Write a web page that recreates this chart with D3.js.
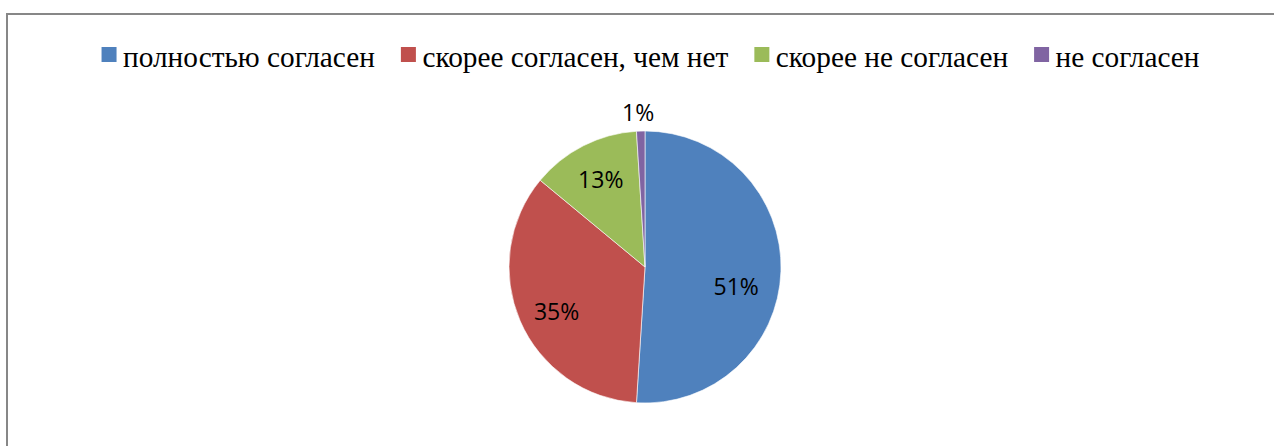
<!DOCTYPE html>
<html><head><meta charset="utf-8">
<script src="https://cdn.jsdelivr.net/npm/d3@7"></script>
<style>body{margin:0;background:#fff;}svg{display:block;}</style>
</head><body>
<svg id="c" width="1274" height="446"></svg>
<script>
const categories = ["полностью согласен", "скорее согласен, чем нет", "скорее не согласен", "не согласен"];
const values = [51, 35, 13, 1];
const labels = ["51%", "35%", "13%", "1%"];
const colors = ["#4F81BD", "#C0504D", "#9BBB59", "#8064A2"];

const svg = d3.select("#c");
svg.append("rect").attr("x", 7).attr("y", 14).attr("width", 1280).attr("height", 450)
  .attr("fill", "#fff").attr("stroke", "#878787").attr("stroke-width", 2);

const cx = 645, cy = 267, r = 136;
const pie = d3.pie().sort(null).value(d => d)(values);
const arc = d3.arc().innerRadius(0).outerRadius(r);
const g = svg.append("g").attr("transform", `translate(${cx},${cy})`);
g.selectAll("path").data(pie).join("path")
  .attr("d", arc).attr("fill", (d, i) => colors[i])
  .attr("stroke", "#fff").attr("stroke-width", 0.6);

// label placement: inside at 0.7r, small slice placed outside (best-fit style)
const labelArc = d3.arc().innerRadius(r * 0.7).outerRadius(r * 0.7);
const outerArc = d3.arc().innerRadius(r * 1.13).outerRadius(r * 1.13);
const nudge = [[-4, 17], [-1, 7], [-1, -2], [-2, 0]];
g.selectAll("text.lab").data(pie).join("text").attr("class", "lab")
  .attr("transform", (d, i) => {
    const small = (d.endAngle - d.startAngle) < 0.2;
    const c = (small ? outerArc : labelArc).centroid(d);
    return `translate(${c[0] + nudge[i][0]},${c[1] + nudge[i][1]})`;
  })
  .attr("text-anchor", "middle").attr("dy", "0.35em")
  .style("font-family", "\"Open Sans\"").style("font-size", "23px").attr("fill", "#000")
  .text((d, i) => labels[i]);

// legend
const lg = svg.append("g");
const items = lg.selectAll("g").data(categories).join("g");
items.append("rect").attr("width", 15).attr("height", 15).attr("y", -20)
  .attr("fill", (d, i) => colors[i]);
items.append("text").attr("x", 21.5).attr("y", 0)
  .style("font-family", "\"Liberation Serif\"").style("font-size", "29.3px")
  .attr("fill", "#000").text(d => d);
let x = 0;
const gap = 26;
items.each(function () {
  const w = d3.select(this).select("text").node().getComputedTextLength();
  d3.select(this).attr("transform", `translate(${x},0)`);
  x += 21.5 + w + gap;
});
const total = x - gap;
lg.attr("transform", `translate(${650.5 - total / 2},${67})`);
</script>
</body></html>
